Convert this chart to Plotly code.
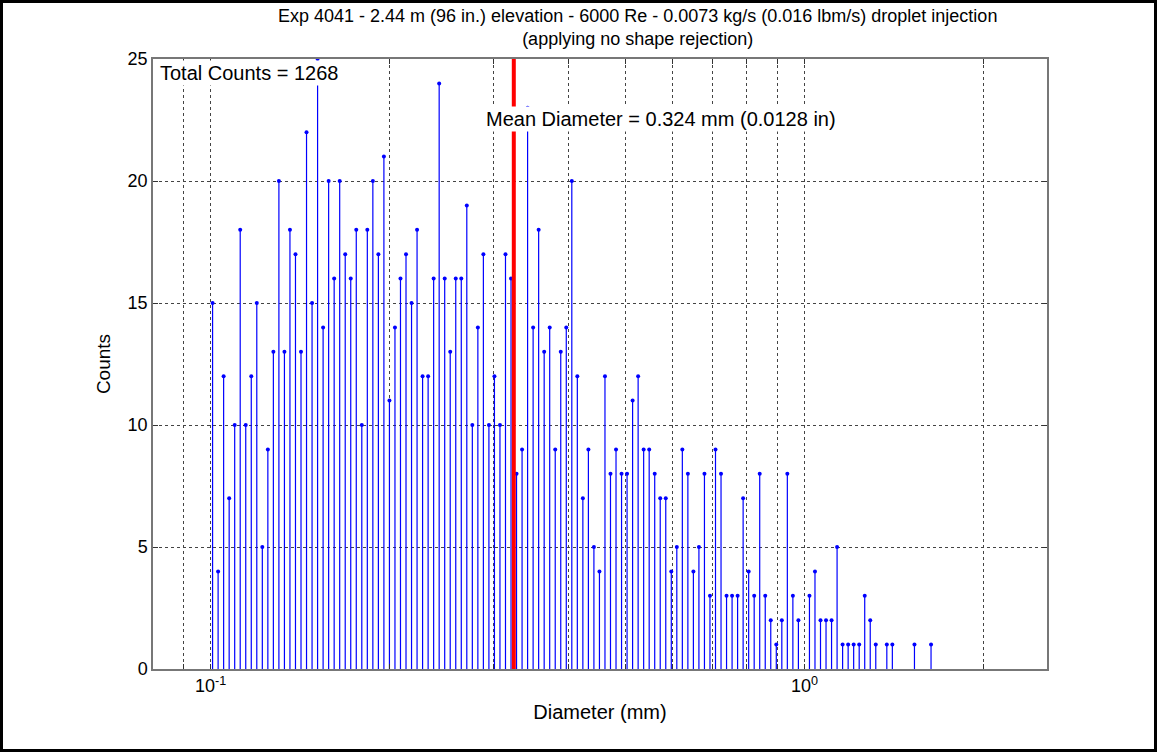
import numpy as np
import plotly.graph_objects as go

# droplet counts per diameter bin (log-spaced bins, 0.1 mm .. ~1.63 mm)
counts = [15, 4, 12, 7, 10, 18, 10, 12, 15, 5, 9, 13, 20, 13, 18, 17, 13, 22, 15, 25, 14,
          20, 16, 20, 17, 16, 18, 10, 18, 20, 17, 21, 11, 14, 16, 17, 15, 18, 12, 12, 16, 24, 16, 13,
          16, 16, 19, 10, 14, 17, 10, 12, 10, 17, 16, 8, 9, 23, 14, 18, 13, 14, 9, 13, 14, 20,
          12, 7, 9, 5, 4, 12, 8, 9, 8, 8, 11, 12, 9, 9, 8, 7, 7, 4, 5, 9, 8, 4, 5,
          8, 3, 9, 8, 3, 3, 3, 7, 4, 3, 8, 3, 2, 1, 2, 8, 3, 2, 0, 3, 4, 2,
          2, 2, 5, 1, 1, 1, 1, 3, 2, 1, 0, 1, 1, 0, 0, 0, 1, 0, 0, 1]

# bin centres in log10(mm): first and last bin
log_first = -0.9966
log_last = 0.2130
diam = np.logspace(log_first, log_last, len(counts))

mean_d = 0.324
mean_in = 0.0128
total = sum(counts)

x_grid = [0.09, 0.1, 0.2, 0.3, 0.4, 0.5, 0.6, 0.7, 0.8, 0.9, 1, 2]
x_text = ['', '10<sup>-1</sup>', '', '', '', '', '', '', '', '', '10<sup>0</sup>', '']
y_ticks = [0, 5, 10, 15, 20, 25]

title = ('Exp 4041 - 2.44 m (96 in.) elevation - 6000 Re - 0.0073 kg/s (0.016 lbm/s) droplet injection'
         '<br>(applying no shape rejection)')

cnt = np.array(counts)
keep = cnt > 0
xs = diam[keep]
ys = cnt[keep]

font = 'Liberation Sans, Arial, Helvetica, sans-serif'

stems = go.Scatter(
    x=xs, y=ys, mode='markers',
    marker=dict(color='#0000ff', size=4),
    error_y=dict(type='data', symmetric=False, array=np.zeros(len(ys)), arrayminus=ys,
                 width=0, thickness=1.2, color='#0000ff'),
    hoverinfo='x+y')

mean_line = go.Scatter(x=[mean_d, mean_d], y=[0, 25], mode='lines',
                       line=dict(color='#ff0000', width=4), hoverinfo='skip')

fig = go.Figure(data=[stems, mean_line])

# plot area in pixels: x 153..1047, y 59..669
W, H = 1157, 752
L, R, T, B = 153, 110, 59, 83
pw, ph = W - L - R, H - T - B


def px(v):
    return (v - L) / pw


def py(v):
    return (H - B - v) / ph


fig.update_layout(
    width=W, height=H,
    margin=dict(l=L, r=R, t=T, b=B),
    paper_bgcolor='white', plot_bgcolor='white',
    showlegend=False,
    font=dict(family=font, color='black', size=18),
    xaxis=dict(type='log', range=[np.log10(0.08), np.log10(2.56)],
               tickvals=x_grid, ticktext=x_text,
               ticks='inside', ticklen=5, tickcolor='#333',
               showline=True, linecolor='#777', linewidth=1.5, mirror='ticks',
               showgrid=True, gridcolor='#444', griddash='dot', gridwidth=1,
               zeroline=False, tickfont=dict(size=18),
               title=dict(text='Diameter (mm)', font=dict(size=20), standoff=10)),
    yaxis=dict(range=[0, 25], tickvals=y_ticks,
               ticks='inside', ticklen=5, tickcolor='#333',
               showline=True, linecolor='#777', linewidth=1.5, mirror='ticks',
               showgrid=True, gridcolor='#444', griddash='dot', gridwidth=1,
               zeroline=False, tickfont=dict(size=18),
               title=dict(text='Counts', font=dict(size=19), standoff=12)),
    annotations=[
        dict(text=title, xref='paper', yref='paper', x=px(637), y=py(4),
             xanchor='center', yanchor='top', showarrow=False, align='center',
             font=dict(size=18)),
        dict(text='Total Counts = %d' % total, xref='paper', yref='paper',
             x=px(158), y=py(73), xanchor='left', yanchor='middle', showarrow=False,
             bgcolor='white', font=dict(size=20)),
        dict(text='Mean Diameter = %.3f mm (%.4f in)' % (mean_d, mean_in), xref='paper', yref='paper',
             x=px(484), y=py(119), xanchor='left', yanchor='middle', showarrow=False,
             bgcolor='white', font=dict(size=20)),
    ],
    shapes=[
        dict(type='rect', xref='paper', yref='paper',
             x0=px(1.5), x1=px(W - 1.5), y0=py(H - 1.5), y1=py(1.5),
             line=dict(color='black', width=3), fillcolor='rgba(0,0,0,0)', layer='above'),
    ],
)

fig.write_html('out.html', config={'displayModeBar': False},
               post_script="document.body.style.margin='0';document.body.style.overflow='hidden';")
